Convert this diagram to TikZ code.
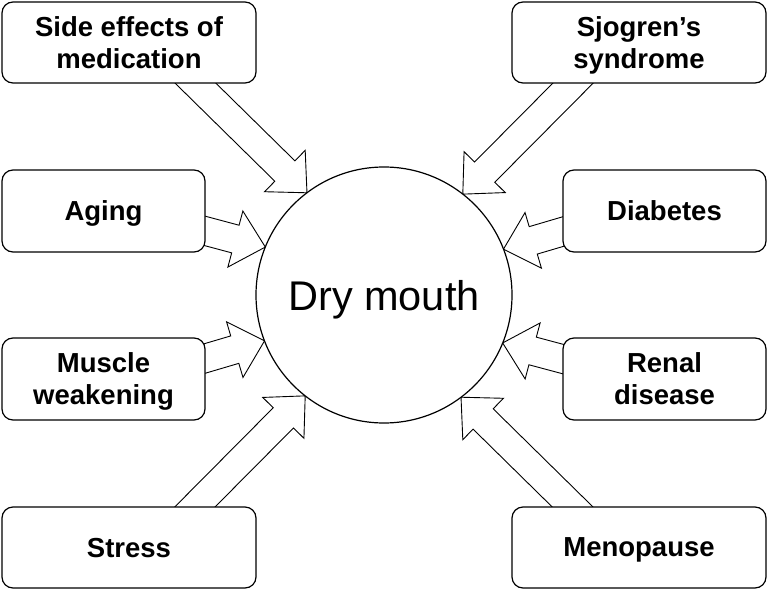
\documentclass[tikz,border=0pt]{standalone}
\usepackage{fontspec}
\setmainfont{Liberation Sans}
\usetikzlibrary{calc,backgrounds}
\tikzset{
  box/.style={draw, line width=1.2pt, rounded corners=11pt, fill=white, inner sep=0pt, outer sep=0pt, align=center, text depth=0pt, font=\fontsize{27.5}{32}\selectfont\bfseries},
  wbox/.style={box, minimum width=254pt, minimum height=81pt},
  nbox/.style={box, minimum width=203pt, minimum height=82pt},
  hub/.style={draw, circle, line width=1.2pt, minimum size=256pt, inner sep=0pt, outer sep=0pt, fill=white, font=\fontsize{41.5}{48}\selectfont, text depth=0pt},
  arr/.style={draw, fill=white, line width=0.9pt, line join=miter},
}
\newcommand{\blockarrow}[2]{%
  \path (#1) coordinate (ba-s) (#2) coordinate (ba-t);
  \coordinate (ba-b) at ($(ba-t)!31pt!(ba-s)$);
  \draw[arr] ($(ba-s)!14.3pt!90:(ba-t)$) -- ($(ba-b)!14.3pt!90:(ba-t)$) -- ($(ba-b)!29pt!90:(ba-t)$) -- (ba-t) -- ($(ba-b)!29pt!-90:(ba-t)$) -- ($(ba-b)!14.3pt!-90:(ba-t)$) -- ($(ba-s)!14.3pt!-90:(ba-t)$) -- cycle;
}
\begin{document}
\begin{tikzpicture}[x=1pt,y=-1pt]
\useasboundingbox (0,0) rectangle (768,591);
\node[hub] (dm) at (384,295) {Dry mouth};
\node[wbox] (se) at (129,42.5) {Side effects of\\medication};
\node[nbox] (ag) at (103.5,211) {Aging};
\node[nbox] (mw) at (103.5,379) {Muscle\\weakening};
\node[wbox] (st) at (129,547.5) {Stress};
\node[wbox] (sj) at (639,42.5) {Sjogren’s\\syndrome};
\node[nbox] (di) at (664.5,211) {Diabetes};
\node[nbox] (re) at (664.5,379) {Renal\\disease};
\node[wbox] (mp) at (639,547.5) {Menopause};
\begin{pgfonlayer}{background}
\blockarrow{$(se.south)+(46,-20)$}{dm.127.8}
\blockarrow{$(st.north)+(46,20)$}{dm.232.2}
\blockarrow{$(ag.east)+(-24,13.5)$}{dm.158.3}
\blockarrow{$(mw.east)+(-24,-13.5)$}{dm.201.7}
\blockarrow{$(sj.south)+(-46,-20)$}{dm.52.2}
\blockarrow{$(mp.north)+(-46,20)$}{dm.307.8}
\blockarrow{$(di.west)+(24,13.5)$}{dm.21.7}
\blockarrow{$(re.west)+(24,-13.5)$}{dm.338.3}
\end{pgfonlayer}
\end{tikzpicture}
\end{document}
